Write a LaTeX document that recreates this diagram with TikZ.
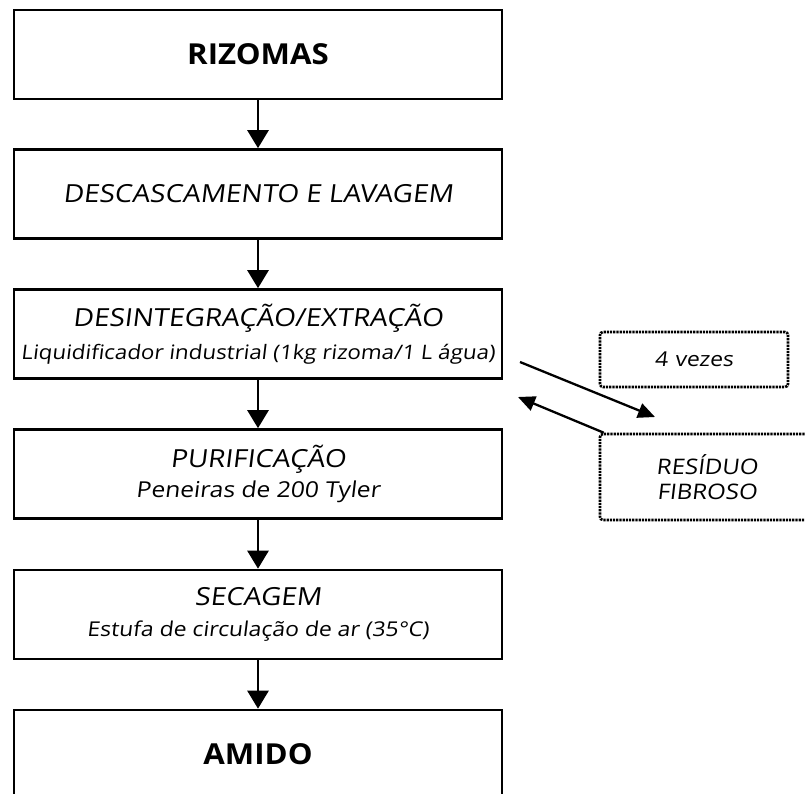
\documentclass[tikz,border=0pt]{standalone}
\usepackage{fontspec}
\setmainfont{Open Sans}
\newfontfamily\lightf[FakeSlant=0.12,FakeStretch=1.12]{Open Sans}
\newfontfamily\boldf[FakeStretch=1.08]{Open Sans Bold}
\usetikzlibrary{arrows.meta}
\begin{document}
\begin{tikzpicture}[x=1bp,y=-1bp,
  stepbox/.style={draw, line width=2.6bp, minimum width=488bp, minimum height=89bp,
    inner sep=0pt, align=center, font=\lightf\fontsize{25}{30}\selectfont},
  titlebox/.style={stepbox, font=\boldf\fontsize{29}{30}\selectfont},
  flow/.style={line width=2.6bp, -{Triangle[width=21bp,length=18bp]}},
  side/.style={line width=2.3bp, -{Triangle[width=15bp,length=17bp]}},
  dotbox/.style={draw, line width=2.6bp, dash pattern=on 2.2bp off 1bp, rounded corners=3bp,
    inner sep=0pt, align=center, font=\lightf\fontsize{21.5}{26}\selectfont}
]
\useasboundingbox (0,0) rectangle (805,794);
\clip (0,0) rectangle (805,794);
\fill[white] (0,0) rectangle (805,794);

\node[titlebox] (riz) at (258,54.5) {RIZOMAS};
\node[stepbox] (desc) at (258,194) {DESCASCAMENTO E LAVAGEM};
\node[stepbox] (des) at (258,334) {DESINTEGRAÇÃO/EXTRAÇÃO\\[3bp]{\fontsize{20}{24}\selectfont Liquidificador industrial (1kg rizoma/1 L água)}};
\node[stepbox] (pur) at (258,474) {PURIFICAÇÃO\\[0bp]{\fontsize{22}{24}\selectfont Peneiras de 200 Tyler}};
\node[stepbox] (sec) at (258,614.5) {SECAGEM\\[1bp]{\fontsize{20.5}{24}\selectfont Estufa de circulação de ar (35°C)}};
\node[titlebox] (ami) at (258,754.5) {AMIDO};

\draw[flow] (riz.south) -- (desc.north);
\draw[flow] (desc.south) -- (des.north);
\draw[flow] (des.south) -- (pur.north);
\draw[flow] (pur.south) -- (sec.north);
\draw[flow] (sec.south) -- (ami.north);

\node[dotbox, minimum width=188bp, minimum height=55bp, font=\lightf\fontsize{20.5}{24}\selectfont] (vez) at (694,359.5) {4\hspace{0.35em}vezes};
\node[dotbox, minimum width=214bp, minimum height=86bp] (res) at (707,477) {RESÍDUO\\[-1bp]FIBROSO};

\coordinate (outA) at (520,362);
\coordinate (outB) at (655,417);
\coordinate (inB) at (518,397);
\draw[side] (outA) -- (outB);
\draw[side] (res.north west) ++(5,0) coordinate (resc) -- (inB);
\end{tikzpicture}
\end{document}
